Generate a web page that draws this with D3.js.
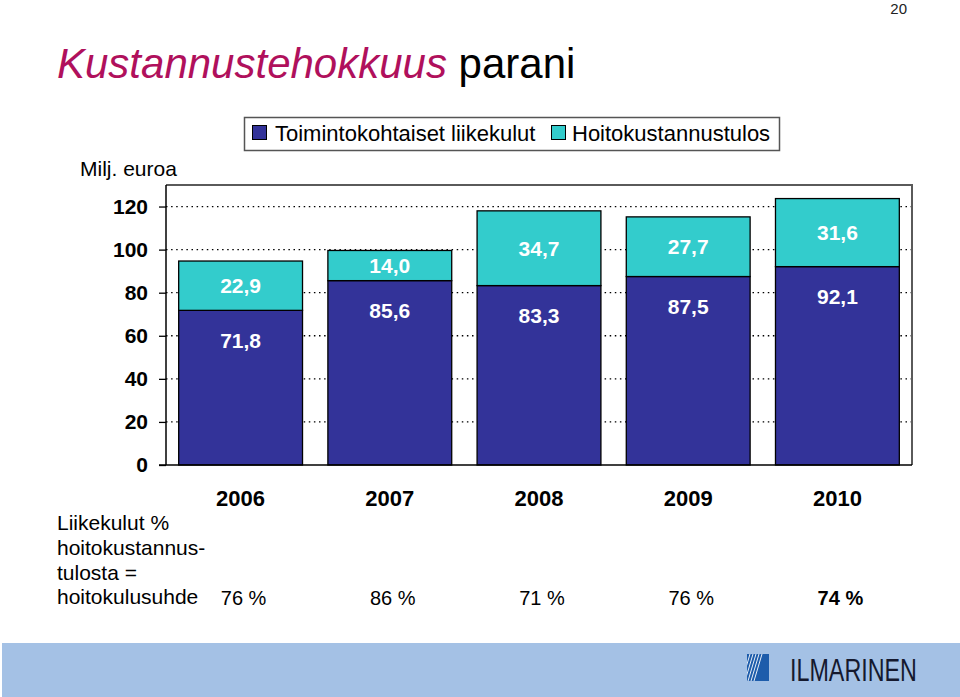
<!DOCTYPE html>
<html><head><meta charset="utf-8">
<script src="https://cdn.jsdelivr.net/npm/d3@7"></script>
<style>
body{margin:0;background:#fff}
svg{display:block}
text{font-family:"Liberation Sans",Arial,Helvetica,sans-serif}
</style>
</head><body>
<svg id="c" width="960" height="697"></svg>
<script>
// ---- data ----
const years = ["2006", "2007", "2008", "2009", "2010"];
const liikekulut = [71.8, 85.6, 83.3, 87.5, 92.1];
const hoitokustannustulos = [22.9, 14.0, 34.7, 27.7, 31.6];
const hoitokulusuhde = ["76 %", "86 %", "71 %", "76 %", "74 %"];
const yTicks = [0, 20, 40, 60, 80, 100, 120];
const seriesNames = ["Toimintokohtaiset liikekulut", "Hoitokustannustulos"];
const seriesKeys = ["liikekulut", "tulos"];
const seriesColors = ["#333399", "#33cccc"];

const rows = years.map((y, i) => ({year: y, liikekulut: liikekulut[i], tulos: hoitokustannustulos[i]}));
const fmt = v => d3.format(".1f")(v).replace(".", ",");

const svg = d3.select("#c");
svg.append("rect").attr("width", 960).attr("height", 697).attr("fill", "#fff");

// page number
svg.append("text").attr("x", 907).attr("y", 14).attr("text-anchor", "end")
  .attr("font-size", 15).attr("fill", "#222").text("20");

// title
const title = svg.append("text").attr("x", 57).attr("y", 78).attr("font-size", 42);
title.append("tspan").attr("font-style", "italic").attr("fill", "#b0105c").text("Kustannustehokkuus");
title.append("tspan").attr("fill", "#000").text(" parani");

// legend
const lg = svg.append("g");
lg.append("rect").attr("x", 244.5).attr("y", 117.5).attr("width", 535).attr("height", 33)
  .attr("fill", "#fff").attr("stroke", "#555").attr("stroke-width", 1.5);
const legendItems = [{sx: 252, tx: 275}, {sx: 551, tx: 572}];
seriesNames.forEach((n, i) => {
  lg.append("rect").attr("x", legendItems[i].sx + 0.5).attr("y", 125.5).attr("width", 14).attr("height", 14)
    .attr("fill", seriesColors[i]).attr("stroke", "#000").attr("stroke-width", 1);
  lg.append("text").attr("x", legendItems[i].tx).attr("y", 141).attr("font-size", 22)
    .attr("fill", "#000").text(n);
});

// unit label
svg.append("text").attr("x", 80).attr("y", 176).attr("font-size", 21).text("Milj. euroa");

// scales
const x = d3.scaleBand().domain(years).range([166, 912]).paddingInner(0.17).paddingOuter(0.085);
const y = d3.scaleLinear().domain([0, 130]).range([465, 185]);

// gridlines
svg.append("g").selectAll("line").data(yTicks.filter(t => t > 0)).join("line")
  .attr("x1", 166).attr("x2", 912).attr("y1", d => y(d)).attr("y2", d => y(d))
  .attr("stroke", "#000").attr("stroke-width", 1.3).attr("stroke-dasharray", "1.5,3.6");

// frame (top/right)
svg.append("path").attr("d", `M166,${y(130)}H912V465`).attr("fill", "none")
  .attr("stroke", "#5a5a5a").attr("stroke-width", 2);

// stacked bars
const stack = d3.stack().keys(seriesKeys)(rows);
const bars = svg.append("g");
stack.forEach((layer, li) => {
  bars.append("g").selectAll("rect").data(layer).join("rect")
    .attr("x", d => x(d.data.year)).attr("width", x.bandwidth())
    .attr("y", d => y(d[1])).attr("height", d => y(d[0]) - y(d[1]))
    .attr("fill", seriesColors[li]).attr("stroke", "#000").attr("stroke-width", 1.3);
});

// y axis
const yAxis = d3.axisLeft(y).tickValues(yTicks).tickSize(7).tickPadding(10);
const ya = svg.append("g").attr("transform", "translate(166,0)").call(yAxis);
ya.select(".domain").attr("d", `M0,${y(130)}V465`).attr("stroke", "#000").attr("stroke-width", 1.5);
ya.selectAll(".tick line").attr("stroke", "#000").attr("stroke-width", 1.3);
ya.selectAll(".tick text").attr("font-size", 21).attr("font-weight", "bold").attr("fill", "#000")
  .attr("font-family", "Liberation Sans, Arial, sans-serif").attr("x", -18);

// baseline
svg.append("line").attr("x1", 159).attr("x2", 912).attr("y1", 465).attr("y2", 465)
  .attr("stroke", "#000").attr("stroke-width", 1.5);

// value labels
const lab = svg.append("g").attr("font-size", 21).attr("font-weight", "bold").attr("fill", "#fff")
  .attr("text-anchor", "middle");
lab.selectAll("text.t").data(stack[1]).join("text").attr("class", "t")
  .attr("x", d => x(d.data.year) + x.bandwidth() / 2)
  .attr("y", d => (y(d[0]) + y(d[1])) / 2).attr("dy", "0.36em")
  .text(d => fmt(d.data.tulos));
lab.selectAll("text.l").data(stack[0]).join("text").attr("class", "l")
  .attr("x", d => x(d.data.year) + x.bandwidth() / 2)
  .attr("y", d => y(d[1]) + 30).attr("dy", "0.36em")
  .text(d => fmt(d.data.liikekulut));

// category labels
svg.append("g").selectAll("text").data(years).join("text")
  .attr("x", d => x(d) + x.bandwidth() / 2).attr("y", 506)
  .attr("text-anchor", "middle").attr("font-size", 22).attr("font-weight", "bold").text(d => d);

// ratio block
const ratioLines = ["Liikekulut %", "hoitokustannus-", "tulosta =", "hoitokulusuhde"];
svg.append("g").selectAll("text").data(ratioLines).join("text")
  .attr("x", 57).attr("y", (d, i) => 530 + i * 24.8).attr("font-size", 21).text(d => d);
svg.append("g").selectAll("text").data(hoitokulusuhde).join("text")
  .attr("x", (d, i) => x(years[i]) + x.bandwidth() / 2 + 3).attr("y", 605)
  .attr("text-anchor", "middle").attr("font-size", 20)
  .attr("font-weight", (d, i) => i === hoitokulusuhde.length - 1 ? "bold" : "normal").text(d => d);

// footer band
svg.append("rect").attr("x", 2).attr("y", 643).attr("width", 958).attr("height", 54).attr("fill", "#a4c1e5");
const defs = svg.append("defs");
defs.append("clipPath").attr("id", "lc").append("rect").attr("x", 747).attr("y", 654).attr("width", 22).attr("height", 27);
svg.append("rect").attr("x", 747).attr("y", 654).attr("width", 22).attr("height", 27).attr("fill", "#1d5cab");
const sg = svg.append("g").attr("clip-path", "url(#lc)");
[0, 3, 6, 9, 12].forEach(o => {
  sg.append("line").attr("x1", 742 + o).attr("y1", 681).attr("x2", 750 + o).attr("y2", 654)
    .attr("stroke", "#fff").attr("stroke-width", 0.9);
});
const logo = svg.append("text").attr("font-size", 32).attr("font-weight", 300)
  .attr("font-family", "Lato, 'Liberation Sans', sans-serif")
  .attr("fill", "#15192e").text("ILMARINEN");
const lw = logo.node().getComputedTextLength();
logo.attr("transform", `translate(790,681) scale(${127 / lw},1)`);
</script>
</body></html>
